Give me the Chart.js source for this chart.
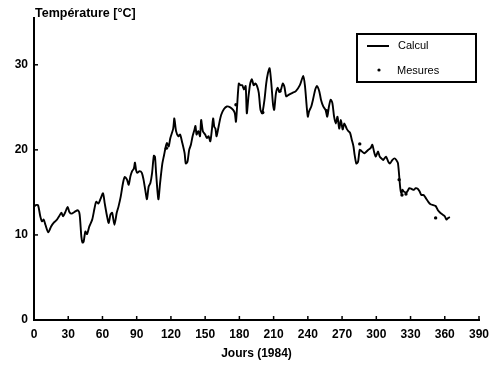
<!DOCTYPE html>
<html>
<head>
<meta charset="utf-8">
<script src="https://cdn.jsdelivr.net/npm/chart.js@4/dist/chart.umd.min.js"></script>
<style>
html,body{margin:0;padding:0;background:#fff;}
#wrap{width:500px;height:365px;position:relative;}
</style>
</head>
<body>
<div id="wrap"><canvas id="c" width="500" height="365"></canvas></div>
<script>
// ---- data ----
const days = [0,1.5,3.5,5.5,7,8.5,10,12.5,15,17,19.5,22,24,25.5,27.5,29.5,31,33,35.5,38.5,40,41.5,42.5,43.5,45,46.5,48.5,51,53,54.5,56.5,58.5,60.5,62,64,65.5,67,68.5,70.5,72.5,74,76,78,79.5,81.5,83,84.5,86,87.5,88.5,89.5,90.5,92.5,94.5,96,97.5,99,100.5,102,103.5,105,106,107,109,110.5,112.5,114,115.5,116.5,118,119.5,122,123,124.5,126.5,128,130,132,133,134.5,136,137.5,139,140.5,141.5,142.5,144,145.5,146.5,148,150,151.5,153,154.5,156,157,158,159,160,162,164,166.5,169,172,174.5,176,177,178,179.5,181,182.5,184,185.5,186.5,188,189.5,191,192.5,194,195.5,197,198.5,200,202,203.5,205,206.5,208,209.5,210.5,212,213.5,215,216.5,218,219.5,221,223.5,226.5,229.5,233,236,237.5,239,240,241,243,244.5,246.5,248,250,251.5,253.5,255.5,257,258.5,260,261.5,263,264.5,266,267.5,269,270.5,272,274,275.5,277,278.5,280,281,282.5,284,285.5,287.5,289.5,293,295,296.5,298,299.5,301.5,303,304.5,306,308.5,310.5,312,314,316,317.5,319,321,322,323,324,326.5,329,331,333,334.5,336.5,338,339.5,341.5,343.5,345.5,347.5,350,352,354,356,358,360,361.5,363,364.5];
const calcul = [13.3,13.5,13.5,12.2,11.6,11.8,11.2,10.3,11.0,11.4,11.7,12.2,12.6,12.2,12.7,13.3,12.7,12.5,12.7,12.9,12.4,9.8,9.1,9.2,10.4,10.1,11.0,11.8,13.1,13.9,13.7,14.3,14.9,13.7,12.2,11.4,12.4,12.6,11.2,12.6,13.3,14.5,16.1,16.8,16.5,15.9,16.9,17.5,17.8,18.5,17.6,17.3,17.5,17.3,16.5,15.3,14.2,15.7,16.1,17.3,19.3,19.2,17.3,14.2,16.1,18.4,19.4,20.4,20.8,20.4,21.4,22.5,23.7,22.2,21.6,21.8,20.8,19.6,18.4,18.6,20.0,20.6,21.6,22.3,22.8,21.8,22.2,21.6,23.5,22.2,21.8,21.4,21.6,21.0,22.5,23.7,22.7,22.5,21.6,22.9,24.1,24.8,25.1,25.0,24.7,24.3,23.3,25.1,27.8,27.6,27.6,27.1,27.5,24.3,26.3,27.8,28.3,27.6,27.8,27.5,26.7,24.7,24.3,25.9,27.8,29.0,29.6,27.8,25.3,24.7,26.6,27.3,26.8,27.1,27.8,27.4,26.3,26.5,26.7,26.9,27.6,28.7,27.5,25.1,23.9,24.5,25.1,25.9,27.1,27.5,26.9,25.9,25.1,24.7,23.9,25.1,25.9,25.5,23.9,23.1,23.9,22.5,23.5,22.4,23.1,22.5,22.2,22.0,21.2,20.4,19.4,18.4,18.6,20.0,19.8,19.6,20.0,20.2,20.6,19.8,19.2,19.8,19.2,19.0,18.8,19.2,18.6,18.4,18.8,19.0,18.8,18.4,15.5,14.9,15.3,15.1,15.0,15.5,15.4,15.3,15.5,15.4,15.1,14.7,14.7,14.3,13.9,13.6,13.5,13.4,12.9,12.6,12.4,12.2,11.8,12.0,12.1];
const mesureDays = [116,177,200.5,215.5,256.5,285.5,320,322.5,326,352];
const mesures = [20.2,25.3,24.4,26.9,24.6,20.7,16.5,14.7,14.8,12.0];
const xTicks = [0,30,60,90,120,150,180,210,240,270,300,330,360,390];
const yTicks = [0,10,20,30];
const labels = {title:'Température [°C]', xTitle:'Jours (1984)', calc:'Calcul', mes:'Mesures'};

const FONT = 'Liberation Sans, Arial, sans-serif';

const decor = {
  id:'decor',
  afterDraw(chart){
    const ctx = chart.ctx;
    const xs = chart.scales.x, ys = chart.scales.y;
    const a = chart.chartArea;
    ctx.save();
    ctx.strokeStyle = '#000';
    ctx.lineWidth = 1.5;
    // inward tick marks
    xTicks.forEach(v=>{ if(v===0) return; const px = xs.getPixelForValue(v);
      ctx.beginPath(); ctx.moveTo(px, a.bottom); ctx.lineTo(px, a.bottom-4); ctx.stroke(); });
    yTicks.forEach(v=>{ if(v===0) return; const py = ys.getPixelForValue(v);
      ctx.beginPath(); ctx.moveTo(a.left, py); ctx.lineTo(a.left+4, py); ctx.stroke(); });
    // title
    ctx.fillStyle = '#000';
    ctx.font = 'bold 12.5px ' + FONT;
    ctx.textAlign = 'left'; ctx.textBaseline = 'alphabetic';
    ctx.fillText(labels.title, 35, 16.5);
    // legend box
    ctx.lineWidth = 2;
    ctx.strokeRect(357, 34, 119, 48);
    ctx.beginPath(); ctx.moveTo(367, 46); ctx.lineTo(389, 46); ctx.stroke();
    ctx.beginPath(); ctx.arc(379, 70, 1.6, 0, Math.PI*2); ctx.fill();
    ctx.font = '11px ' + FONT;
    ctx.textBaseline = 'middle';
    ctx.fillText(labels.calc, 398, 46);
    ctx.fillText(labels.mes, 397, 70.5);
    ctx.restore();
  }
};

new Chart(document.getElementById('c'), {
  type:'line',
  data:{
    datasets:[
      {label:labels.calc, data: days.map((d,i)=>({x:d,y:calcul[i]})), borderColor:'#000', borderWidth:1.9, pointRadius:0, tension:0.25, fill:false},
      {label:labels.mes, type:'scatter', data: mesureDays.map((d,i)=>({x:d,y:mesures[i]})), backgroundColor:'#000', borderColor:'#000', pointRadius:1.7, borderWidth:0, showLine:false}
    ]
  },
  options:{
    responsive:false, animation:false,
    layout:{padding:{left:0,right:21,top:18,bottom:0}},
    plugins:{legend:{display:false}, tooltip:{enabled:false}, title:{display:false}},
    scales:{
      x:{type:'linear', min:0, max:390,
        afterBuildTicks: s=>{ s.ticks = xTicks.map(v=>({value:v})); },
        afterFit: s=>{ s.height = 45; },
        grid:{display:false, drawTicks:false},
        border:{display:true, color:'#000', width:2},
        ticks:{autoSkip:false, maxRotation:0, padding:7, color:'#000', font:{family:FONT, size:12, weight:'bold'}},
        title:{display:true, text:labels.xTitle, color:'#000', font:{family:FONT, size:12, weight:'bold'}, padding:{top:0,bottom:4}}
      },
      y:{type:'linear', min:0, max:35.5,
        afterBuildTicks: s=>{ s.ticks = yTicks.map(v=>({value:v})); },
        afterFit: s=>{ s.width = 34; },
        grid:{display:false, drawTicks:false},
        border:{display:true, color:'#000', width:2},
        ticks:{padding:6, color:'#000', font:{family:FONT, size:12, weight:'bold'}}
      }
    }
  },
  plugins:[decor]
});
</script>
</body>
</html>
